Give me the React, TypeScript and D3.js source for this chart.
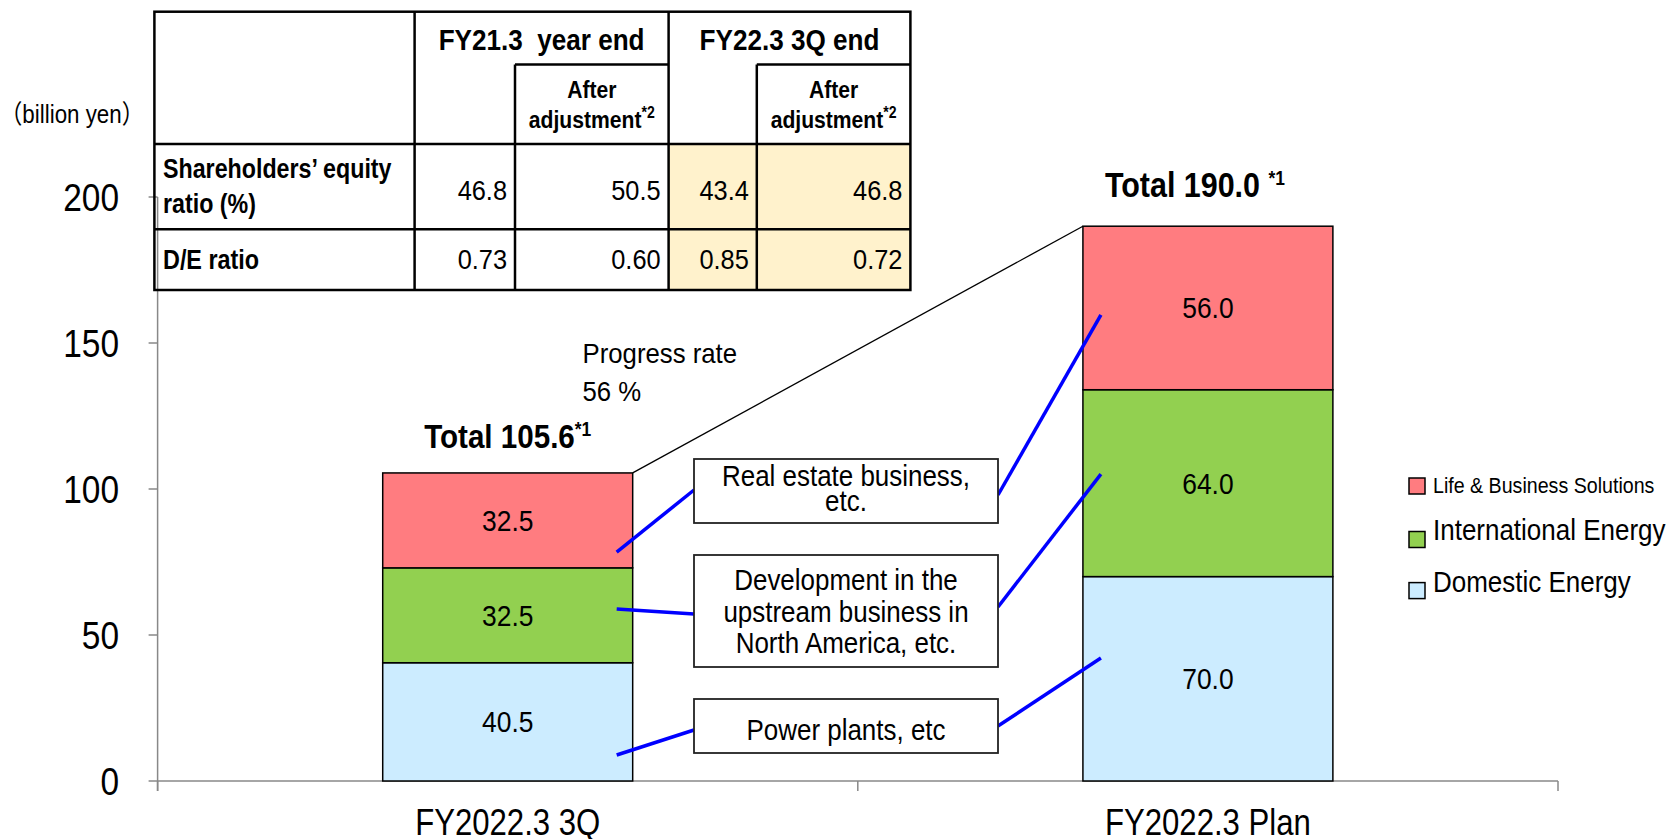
import React from 'react';
import * as d3 from 'd3';

// ---------- data ----------
const categories = ['FY2022.3 3Q', 'FY2022.3 Plan'];
const domesticEnergy = [40.5, 70.0];
const internationalEnergy = [32.5, 64.0];
const lifeBusiness = [32.5, 56.0];
const totalLabels = ['105.6', '190.0'];
const yTicks = [0, 50, 100, 150, 200];
const seriesNames = ['Domestic Energy', 'International Energy', 'Life & Business Solutions'];
const legendOrder = ['Life & Business Solutions', 'International Energy', 'Domestic Energy'];

const tableColHeads = ['FY21.3  year end', 'FY22.3 3Q end'];
const tableRowLabels = [['Shareholders’ equity', 'ratio (%)'], ['D/E ratio']];
const equityRatio = [46.8, 50.5, 43.4, 46.8];
const deRatio = [0.73, 0.6, 0.85, 0.72];

const calloutTexts = [
  ['Real estate business,', 'etc.'],
  ['Development in the', 'upstream business in', 'North America, etc.'],
  ['Power plants, etc'],
];
// anchor values (in billion yen) where callout leaders touch the bars
const leftAnchors = [78.4, 58.9, 8.9];
const rightAnchors = [159.6, 105.1, 42.1];

// ---------- styles / layout ----------
const W = 1670, H = 839;
const COLORS: Record<string, string> = {
  'Domestic Energy': '#CCECFF',
  'International Energy': '#92D050',
  'Life & Business Solutions': '#FF7C80',
};
const FONT = "'Liberation Sans', Arial, Helvetica, sans-serif";
const SX = 0.88;

function T(props: any) {
  const { x, y, s, sx = SX, anchor = 'start', weight = 400, children, fill = '#000' } = props;
  return (
    <text
      transform={`translate(${x},${y}) scale(${sx},1)`}
      fontSize={s}
      fontWeight={weight}
      textAnchor={anchor}
      fontFamily={FONT}
      fill={fill}
      style={{ whiteSpace: 'pre' }}
    >
      {children}
    </text>
  );
}

export default function App() {
  const x0 = 157.6, x1 = 1558, yBase = 781, yTop = 197;
  const x = d3.scaleBand<string>().domain(categories).range([x0, x1]).padding(0);
  const y = d3.scaleLinear().domain([0, 200]).range([yBase, yTop]);
  const barW = x.bandwidth() * 0.357;
  const barX = (c: string) => (x(c) as number) + x.bandwidth() / 2 - barW / 2;

  const rows = categories.map((c, i) => ({
    cat: c,
    'Domestic Energy': domesticEnergy[i],
    'International Energy': internationalEnergy[i],
    'Life & Business Solutions': lifeBusiness[i],
  }));
  const stack = d3.stack<any>().keys(seriesNames)(rows);

  // table geometry
  const tc = [154.4, 414.6, 515, 668.6, 756.8, 910.4];
  const tr = [11.7, 64.5, 144, 229.3, 290];

  // callout boxes
  const boxL = 694, boxR = 998;
  const boxes = [
    { y0: 459, y1: 523, base: [485.5, 511], lEnd: 490, rEnd: 495 },
    { y0: 555, y1: 667, base: [590, 622, 653], lEnd: 614, rEnd: 607 },
    { y0: 699, y1: 753, base: [740], lEnd: 730, rEnd: 726 },
  ];

  const bar1 = barX(categories[0]);
  const bar2 = barX(categories[1]);
  const top1 = d3.sum([domesticEnergy[0], internationalEnergy[0], lifeBusiness[0]]);
  const top2 = d3.sum([domesticEnergy[1], internationalEnergy[1], lifeBusiness[1]]);

  const legendY = [486, 539.5, 590.6];
  const legendSize = [22.3, 29.7, 29.7];
  const legendSx = [0.88, 0.875, 0.875];
  const legendBase = [493, 540, 592];

  return (
    <svg width={W} height={H} style={{ position: 'absolute', left: 0, top: 0, background: '#fff' }}>
      <rect x={0} y={0} width={W} height={H} fill="#fff" />
      {/* axes */}
      <g stroke="#888" strokeWidth={1.5} fill="none">
        <line x1={x0} x2={x0} y1={yBase + 10} y2={y(200)} />
        <line x1={x0} x2={x1} y1={yBase} y2={yBase} />
        {yTicks.map((t) => (
          <line key={t} x1={x0 - 9} x2={x0} y1={y(t)} y2={y(t)} />
        ))}
        {[x0, ...categories.map((c) => (x(c) as number) + x.bandwidth())].map((px, i) => (
          <line key={i} x1={px} x2={px} y1={yBase} y2={yBase + 10} />
        ))}
      </g>
      {yTicks.map((t) => (
        <T key={t} x={119} y={y(t) + 13.6} s={38} anchor="end">
          {String(t)}
        </T>
      ))}
      {categories.map((c) => (
        <T key={c} x={(x(c) as number) + x.bandwidth() / 2} y={835} s={37.5} sx={0.83} anchor="middle">
          {c}
        </T>
      ))}

      {/* bars */}
      {stack.map((s) =>
        s.map((d, i) => (
          <rect
            key={s.key + i}
            x={barX(categories[i])}
            y={y(d[1])}
            width={barW}
            height={y(d[0]) - y(d[1])}
            fill={COLORS[s.key]}
            stroke="#000"
            strokeWidth={1.5}
          />
        ))
      )}
      {stack.map((s) =>
        s.map((d, i) => (
          <T key={'l' + s.key + i} x={barX(categories[i]) + barW / 2} y={y((d[0] + d[1]) / 2) + 10.5} s={30} anchor="middle">
            {(d[1] - d[0]).toFixed(1)}
          </T>
        ))
      )}

      {/* totals */}
      <text transform={`translate(${bar1 + barW / 2},${y(top1) - 25}) scale(0.87,1)`} fontFamily={FONT} fontWeight={700} fontSize={34} textAnchor="middle">
        {`Total ${totalLabels[0]}`}
        <tspan fontSize={20} dy={-12}>*1</tspan>
      </text>
      <text transform={`translate(${bar2 + barW / 2 - 13},${y(top2) - 29}) scale(0.87,1)`} fontFamily={FONT} fontWeight={700} fontSize={35} textAnchor="middle" style={{ whiteSpace: 'pre' }}>
        {`Total ${totalLabels[1]} `}
        <tspan fontSize={20} dy={-12}>*1</tspan>
      </text>

      {/* progress line */}
      <line x1={bar1 + barW} y1={y(top1)} x2={bar2} y2={y(top2)} stroke="#000" strokeWidth={1.3} />
      <T x={582.5} y={363} s={28} sx={0.92}>Progress rate</T>
      <T x={582.5} y={401} s={28} sx={0.92}>56 %</T>

      {/* callouts */}
      {boxes.map((b, i) => (
        <g key={'b' + i}>
          <line x1={bar1 + barW - 16} y1={y(leftAnchors[i])} x2={boxL} y2={b.lEnd} stroke="#0000FF" strokeWidth={3.5} />
          <line x1={boxR} y1={b.rEnd} x2={bar2 + 18} y2={y(rightAnchors[i])} stroke="#0000FF" strokeWidth={3.5} />
          <rect x={boxL} y={b.y0} width={boxR - boxL} height={b.y1 - b.y0} fill="#fff" stroke="#222" strokeWidth={1.8} />
          {calloutTexts[i].map((t, j) => (
            <T key={j} x={(boxL + boxR) / 2} y={b.base[j]} s={29.5} anchor="middle">
              {t}
            </T>
          ))}
        </g>
      ))}

      {/* legend */}
      {legendOrder.map((k, i) => (
        <g key={k}>
          <rect x={1409} y={legendY[i] - 8} width={16} height={16} fill={COLORS[k]} stroke="#000" strokeWidth={1.5} />
          <T x={1433} y={legendBase[i]} s={legendSize[i]} sx={legendSx[i]}>
            {k}
          </T>
        </g>
      ))}

      {/* unit label */}
      <text transform={`translate(0,123) scale(0.86,1)`} fontSize={26} fontFamily={`${FONT}, 'Noto Sans CJK JP'`}>
        （billion yen）
      </text>

      {/* table */}
      <g>
        <rect x={tc[3]} y={tr[2]} width={tc[5] - tc[3]} height={tr[4] - tr[2]} fill="#FFF2CC" />
        <g stroke="#000" strokeWidth={2.5} fill="none">
          <rect x={tc[0]} y={tr[0]} width={tc[5] - tc[0]} height={tr[4] - tr[0]} fill="none" />
          <line x1={tc[1]} x2={tc[1]} y1={tr[0]} y2={tr[4]} />
          <line x1={tc[3]} x2={tc[3]} y1={tr[0]} y2={tr[4]} />
          <line x1={tc[2]} x2={tc[2]} y1={tr[1]} y2={tr[4]} />
          <line x1={tc[4]} x2={tc[4]} y1={tr[1]} y2={tr[4]} />
          <line x1={tc[2]} x2={tc[3]} y1={tr[1]} y2={tr[1]} />
          <line x1={tc[4]} x2={tc[5]} y1={tr[1]} y2={tr[1]} />
          <line x1={tc[0]} x2={tc[5]} y1={tr[2]} y2={tr[2]} />
          <line x1={tc[0]} x2={tc[5]} y1={tr[3]} y2={tr[3]} />
        </g>
        <T x={(tc[1] + tc[3]) / 2} y={50} s={29} weight={700} sx={0.9} anchor="middle">{tableColHeads[0]}</T>
        <T x={(tc[3] + tc[5]) / 2} y={50} s={29} weight={700} sx={0.9} anchor="middle">{tableColHeads[1]}</T>
        {[2, 4].map((c) => (
          <g key={c}>
            <T x={(tc[c] + tc[c + 1]) / 2} y={98.3} s={24} weight={700} sx={0.88} anchor="middle">After</T>
            <text transform={`translate(${(tc[c] + tc[c + 1]) / 2},127.7) scale(0.88,1)`} fontFamily={FONT} fontWeight={700} fontSize={24} textAnchor="middle">
              adjustment<tspan fontSize={16} dy={-10}>*2</tspan>
            </text>
          </g>
        ))}
        <T x={163} y={178.3} s={28} weight={700} sx={0.83}>{tableRowLabels[0][0]}</T>
        <T x={163} y={213} s={28} weight={700} sx={0.83}>{tableRowLabels[0][1]}</T>
        <T x={163} y={269.3} s={27.5} weight={700} sx={0.85}>{tableRowLabels[1][0]}</T>
        {equityRatio.map((v, i) => (
          <T key={'e' + i} x={tc[i + 2] - 8} y={199.5} s={27} sx={0.94} anchor="end">{v.toFixed(1)}</T>
        ))}
        {deRatio.map((v, i) => (
          <T key={'d' + i} x={tc[i + 2] - 8} y={269.3} s={27} sx={0.94} anchor="end">{v.toFixed(2)}</T>
        ))}
      </g>
    </svg>
  );
}
